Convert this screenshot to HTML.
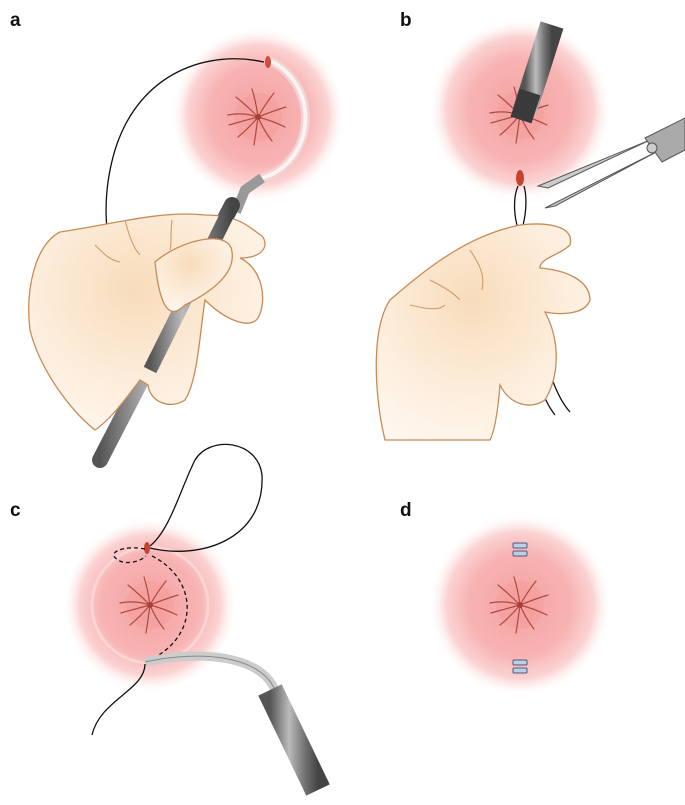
<!DOCTYPE html>
<html><head><meta charset="utf-8"><style>
html,body{margin:0;padding:0;background:#fff;width:685px;height:805px;overflow:hidden}
svg{display:block}
.lbl{font-family:"Liberation Sans",sans-serif;font-weight:bold;font-size:19px;fill:#111}
.hand{fill:url(#skin);stroke:#c98a55;stroke-width:1.3}
.crease{fill:none;stroke:#d09a6a;stroke-width:1.1}
.th{fill:none;stroke:#111;stroke-width:1.3}
.star{fill:none;stroke:#b04a3e;stroke-width:1.2;stroke-linecap:round}
</style></head><body>
<svg width="685" height="805" viewBox="0 0 685 805">
<defs>
<radialGradient id="glow"><stop offset="0" stop-color="#f5a3a3"/><stop offset="0.55" stop-color="#f8b2b2"/><stop offset="0.8" stop-color="#fbd3d3"/><stop offset="1" stop-color="#fff" stop-opacity="0"/></radialGradient>
<radialGradient id="skin" cx="0.45" cy="0.35" r="0.75"><stop offset="0" stop-color="#f8dcbb"/><stop offset="0.6" stop-color="#fdeedd"/><stop offset="1" stop-color="#fff8f0"/></radialGradient>
<linearGradient id="metal" x1="0" y1="0" x2="1" y2="0"><stop offset="0" stop-color="#555"/><stop offset="0.4" stop-color="#bbb"/><stop offset="0.7" stop-color="#777"/><stop offset="1" stop-color="#444"/></linearGradient>
<g id="anus">
<circle r="24" fill="#f29a98" opacity="0.45"/>
<path class="star" d="M0 0 Q-15 -5 -30 -2 M0 0 Q-12 -12 -22 -20 M0 0 Q-2 -15 -6 -28 M0 0 Q8 -14 16 -24 M0 0 Q15 -6 28 -10 M0 0 Q15 4 27 10 M0 0 Q6 14 14 24 M0 0 Q-2 15 -4 28 M0 0 Q-10 12 -20 20 M0 0 Q-15 4 -29 8"/>
<circle r="3" fill="#a8403a"/>
</g>
</defs>
<text class="lbl" x="10" y="26">a</text>
<text class="lbl" x="400" y="26">b</text>
<text class="lbl" x="10" y="516">c</text>
<text class="lbl" x="400" y="516">d</text>

<!-- panel a -->
<circle cx="258" cy="115" r="88" fill="url(#glow)"/>
<use href="#anus" x="258" y="117"/>
<path d="M268 60 A58 62 0 0 1 262 178" fill="none" stroke="#f2d2d2" stroke-width="9"/>
<path d="M268 60 A58 62 0 0 1 262 178" fill="none" stroke="#fff" stroke-width="4" opacity="0.7"/>
<path d="M262 178 L245 190 L236 212" fill="none" stroke="#999" stroke-width="10"/>
<path d="M232 205 L100 460" stroke="url(#metal)" stroke-width="16" stroke-linecap="round"/>
<ellipse cx="268" cy="62" rx="3" ry="6" fill="#d24a3c"/>
<path class="th" d="M264 62 C210 50 140 70 115 150 C100 200 105 250 122 285"/>
<path class="hand" d="M60 232 C110 225 160 210 205 215 C240 215 250 228 262 236 C270 246 262 258 240 258 C262 268 268 300 258 318 C250 330 225 320 205 300 C200 330 198 380 185 400 C170 410 150 402 148 385 L140 380 C125 400 110 420 95 430 C70 410 40 370 30 330 C25 290 35 245 60 232 Z"/>
<path d="M232 205 L150 370" stroke="url(#metal)" stroke-width="14"/>
<path class="hand" d="M155 262 C180 240 230 228 232 252 C235 272 215 290 185 305 C170 320 160 310 155 262Z"/>
<path class="crease" d="M95 245 C105 255 110 260 120 262 M125 220 C130 240 135 250 140 255 M172 220 C170 235 172 245 170 250"/>

<!-- panel b -->
<circle cx="520" cy="110" r="92" fill="url(#glow)"/>
<use href="#anus" x="520" y="115"/>
<path d="M552 25 L525 110" stroke="url(#metal)" stroke-width="24"/>
<path d="M530 92 L521 120" stroke="#3a3a3a" stroke-width="22"/>
<path d="M650 140 L538 186 L548 188 Z" fill="#ccc" stroke="#555" stroke-width="1"/>
<path d="M660 150 L545 208 L555 206 Z" fill="#ccc" stroke="#555" stroke-width="1"/>
<path d="M645 138 L685 118 L685 150 L662 162 Z" fill="#aaa" stroke="#555"/>
<circle cx="652" cy="148" r="5" fill="#ccc" stroke="#555"/>
<ellipse cx="520" cy="178" rx="4" ry="8" fill="#c8432f"/>
<path class="th" d="M518 186 C512 200 515 220 518 228 M524 186 C528 200 525 220 522 228 M520 290 C525 330 535 390 555 415 M530 290 C540 340 550 390 570 412"/>
<path class="hand" d="M390 300 C430 265 470 235 520 225 C545 222 575 225 570 245 C560 255 540 258 540 268 C565 270 590 280 590 300 C585 315 560 315 545 312 C560 340 560 375 545 400 C530 410 510 405 500 385 C498 410 495 430 490 440 L385 440 C375 400 370 330 390 300Z"/>
<path class="crease" d="M470 250 C480 265 485 275 482 290 M430 280 C450 290 455 295 460 300 M410 305 C430 310 440 310 445 305"/>

<!-- panel c -->
<circle cx="150" cy="605" r="88" fill="url(#glow)"/>
<circle cx="150" cy="605" r="58" fill="none" stroke="#fbd4d4" stroke-width="3"/>
<use href="#anus" x="150" y="605"/>
<ellipse cx="147" cy="548" rx="3" ry="6" fill="#c8432f"/>
<path class="th" d="M150 548 C200 560 265 540 262 475 C258 440 210 435 195 460 C180 490 170 530 150 546"/>
<path d="M145 549 C125 545 105 552 118 560 C125 565 140 562 146 556 M152 556 C200 580 200 640 145 662" fill="none" stroke="#111" stroke-width="1.3" stroke-dasharray="4 3"/>
<path d="M145 662 C200 650 260 655 275 690" fill="none" stroke="#ccc" stroke-width="9"/>
<path d="M145 662 C200 650 260 655 275 690" fill="none" stroke="#888" stroke-width="1"/>
<path d="M270 690 L318 790" stroke="url(#metal)" stroke-width="26"/>
<path class="th" d="M145 664 C145 690 100 700 92 735"/>

<!-- panel d -->
<circle cx="520" cy="605" r="92" fill="url(#glow)"/>
<use href="#anus" x="520" y="605"/>
<g fill="#b8d0ea" stroke="#557" stroke-width="1">
<rect x="513" y="543" width="14" height="5" rx="1"/><rect x="513" y="551" width="14" height="5" rx="1"/>
<rect x="513" y="660" width="14" height="5" rx="1"/><rect x="513" y="668" width="14" height="5" rx="1"/>
</g>
</svg>
</body></html>
